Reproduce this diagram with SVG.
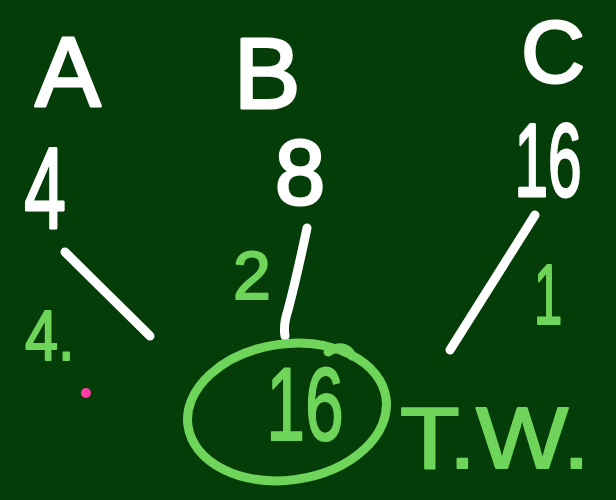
<svg xmlns="http://www.w3.org/2000/svg" width="616" height="500" viewBox="0 0 616 500">
<style>
.w{fill:#ffffff;stroke:#ffffff;stroke-width:3;stroke-linejoin:round;font-family:"Liberation Sans",Arial,sans-serif;}
.g{fill:#6fd45a;stroke:#6fd45a;stroke-width:2;stroke-linejoin:round;font-family:"Liberation Sans",Arial,sans-serif;}
.wl{fill:none;stroke:#ffffff;stroke-width:9;stroke-linecap:round;}
.gl{fill:none;stroke:#6fd45a;stroke-width:9;stroke-linecap:round;}
</style>
<rect width="616" height="500" fill="#053d08"/>
<g id="nodeA"><text class="w" x="68" y="106" font-size="98" text-anchor="middle">A</text>
<text class="w" transform="translate(45 228) scale(0.65 1)" font-size="115" text-anchor="middle">4</text></g>
<g id="nodeB"><text class="w" x="267" y="108" font-size="100" text-anchor="middle">B</text>
<text class="w" x="300" y="204" font-size="90" text-anchor="middle">8</text></g>
<g id="nodeC"><text class="w" x="553" y="82" font-size="88" text-anchor="middle">C</text>
<text class="w" transform="translate(548 196) scale(0.58 1)" font-size="104" text-anchor="middle">16</text></g>
<g id="connectors">
<path class="wl" d="M65,252 L150,336"/>
<path class="wl" d="M307,228 Q296,280 288,310 Q283,325 285,336"/>
<path class="wl" d="M535,215 L450,350"/>
</g>
<g id="labels">
<text class="g" x="252" y="299" font-size="68" text-anchor="middle">2</text>
<text class="g" transform="translate(548 324) scale(0.6 1)" font-size="86" text-anchor="middle">1</text>
<text class="g" transform="translate(25 360) scale(0.85 1)" font-size="70">4.</text>
<circle cx="86" cy="393" r="5" fill="#ff3ea5"/>
</g>
<g id="result">
<ellipse class="gl" cx="287" cy="412" rx="100" ry="68" transform="rotate(-8 287 412)"/>
<path class="gl" d="M328,352 Q345,342 352,356"/>
<text class="g" transform="translate(305 440) scale(0.67 1)" font-size="104" text-anchor="middle">16</text>
<text class="g" x="400" y="468" font-size="88" textLength="190" lengthAdjust="spacingAndGlyphs">T.W.</text>
</g>
</svg>
